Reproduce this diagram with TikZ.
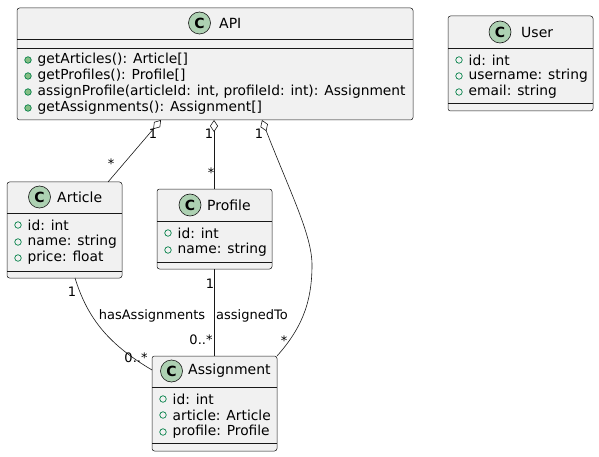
\documentclass[tikz,border=0pt]{standalone}
\usepackage{fontspec}
\setmainfont{DejaVu Sans}
\usetikzlibrary{arrows.meta}
\definecolor{boxfill}{HTML}{F1F1F1}
\definecolor{boxline}{HTML}{181818}
\definecolor{cfill}{HTML}{ADD1B2}
\definecolor{visgreen}{HTML}{038048}
\definecolor{visfill}{HTML}{84BE84}
\newcommand\umlmem[4]{%
  \node[vis#4] at (#1+11,#2) {};
  \node[memtext] at (#1+20.5,#2) {#3};}
\newcommand\umlhead[5]{%
  \node[cicon] (#4c) at (#1,#2) {C};
  \node[titletext] (#4t) at (#5,#2) {#3};}
\begin{document}
\begin{tikzpicture}[x=1pt,y=-1pt,
  cls/.style={draw=boxline,fill=boxfill,line width=0.5pt,rounded corners=2.5pt},
  sep/.style={draw=boxline,line width=0.5pt},
  cicon/.style={circle,draw=boxline,fill=cfill,line width=0.6pt,minimum size=22pt,inner sep=0pt,font=\fontsize{14}{16}\selectfont\bfseries},
  titletext/.style={anchor=west,inner sep=0pt,font=\fontsize{14}{16}\selectfont},
  memtext/.style={anchor=west,inner sep=0pt,font=\fontsize{13.8}{16}\selectfont},
  visopen/.style={circle,draw=visgreen,line width=0.7pt,minimum size=6.5pt,inner sep=0pt},
  visfilled/.style={circle,draw=visgreen,fill=visfill,line width=0.7pt,minimum size=6.5pt,inner sep=0pt},
  edge/.style={draw=boxline,line width=0.6pt},
  agg/.style={edge,{Diamond[open,length=12pt,width=8pt]}-},
  mult/.style={inner sep=0pt,font=\fontsize{13}{15}\selectfont},
  elabel/.style={inner sep=0pt,font=\fontsize{13}{15}\selectfont}]
\useasboundingbox (0,0) rectangle (599,457);
% API
\draw[cls] (17,8) rectangle (413,120);
\draw[sep] (17,39) -- (413,39);
\draw[sep] (17,48) -- (413,48);
\umlhead{199.5}{23}{API}{api}{219}
\umlmem{17}{60}{getArticles(): Article[]}{filled}
\umlmem{17}{76}{getProfiles(): Profile[]}{filled}
\umlmem{17}{92}{assignProfile(articleId: int, profileId: int): Assignment}{filled}
\umlmem{17}{108}{getAssignments(): Assignment[]}{filled}
% User
\draw[cls] (448,16) rectangle (593,111);
\draw[sep] (448,48) -- (593,48);
\draw[sep] (448,103) -- (593,103);
\umlhead{500}{32}{User}{user}{521}
\umlmem{448}{60}{id: int}{open}
\umlmem{448}{76}{username: string}{open}
\umlmem{448}{92}{email: string}{open}
% Article
\draw[cls] (7,182) rectangle (122,278);
\draw[sep] (7,213) -- (122,213);
\draw[sep] (7,271) -- (122,271);
\umlhead{39.5}{197}{Article}{art}{57}
\umlmem{7}{225}{id: int}{open}
\umlmem{7}{242}{name: string}{open}
\umlmem{7}{258}{price: float}{open}
% Profile
\draw[cls] (157,189) rectangle (272,269);
\draw[sep] (157,221) -- (272,221);
\draw[sep] (157,262) -- (272,262);
\umlhead{190}{205}{Profile}{prof}{207}
\umlmem{157}{233}{id: int}{open}
\umlmem{157}{250}{name: string}{open}
% Assignment
\draw[cls] (152,356) rectangle (277,451);
\draw[sep] (152,387) -- (277,387);
\draw[sep] (152,443) -- (277,443);
\umlhead{171.5}{371}{Assignment}{asg}{188}
\umlmem{152}{399}{id: int}{open}
\umlmem{152}{415}{article: Article}{open}
\umlmem{152}{432}{profile: Profile}{open}
% connector end points
\coordinate (apiA) at (161,120);
\coordinate (artT) at (108,182);
\coordinate (apiP) at (214,120);
\coordinate (profT) at (214,189);
\coordinate (apiS) at (262,120);
\coordinate (bend) at (312,265);
\coordinate (asgR) at (277,356);
\coordinate (artB) at (75,278);
\coordinate (asgL) at (152,370);
\coordinate (profB) at (214,269);
\coordinate (asgT) at (214,356);
% aggregations
\draw[agg] (apiA) -- (artT);
\draw[agg] (apiP) -- (profT);
\draw[agg] (apiS) .. controls (290,192) and (312,235) .. (bend)
  .. controls (312,305) and (300,330) .. (asgR);
\draw[edge] (artB) .. controls (88,320) and (110,345) .. (asgL);
\draw[edge] (profB) -- (asgT);
% multiplicities
\node[mult] (m1) at (153,134) {1};
\node[mult] (m2) at (111,164) {*};
\node[mult] (m3) at (209,134) {1};
\node[mult] (m4) at (211,173) {*};
\node[mult] (m5) at (259,134) {1};
\node[mult] (m6) at (284,341) {*};
\node[mult] (m7) at (72,292) {1};
\node[mult] (m8) at (136,358) {0..*};
\node[mult] (m9) at (210,284) {1};
\node[mult] (m10) at (201,340) {0..*};
\node[elabel] (l1) at (152,316) {hasAssignments};
\node[elabel] (l2) at (252,316) {assignedTo};
\end{tikzpicture}
\end{document}
